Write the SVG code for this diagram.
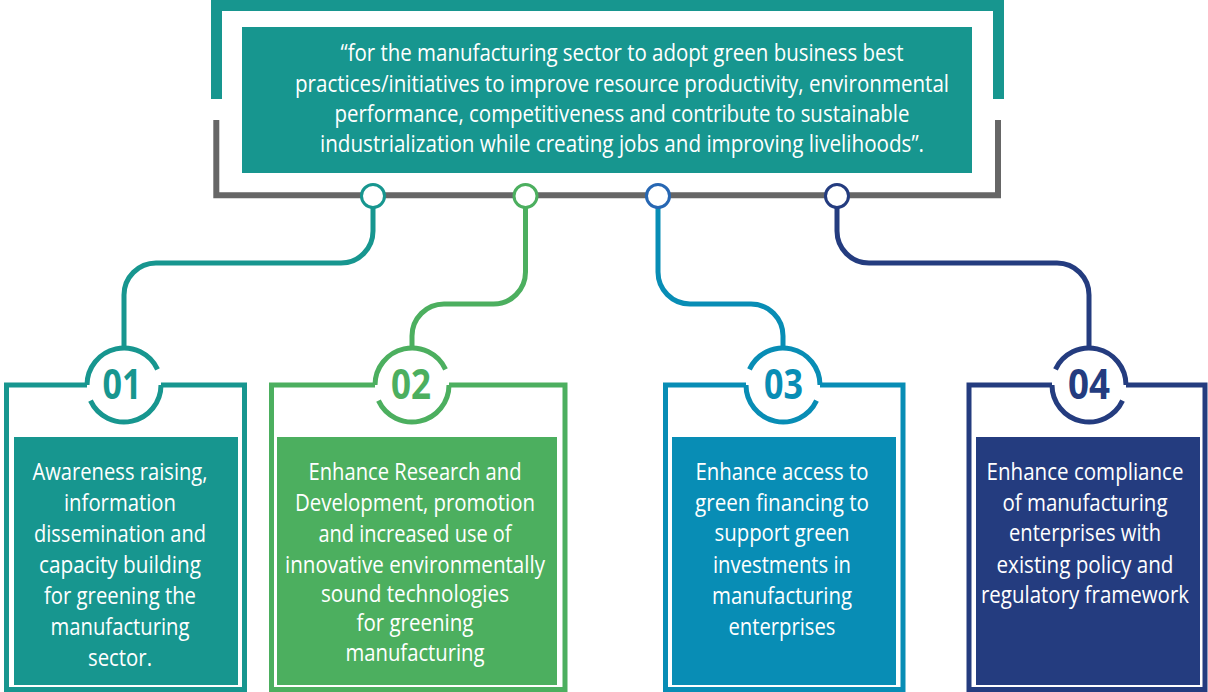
<svg xmlns="http://www.w3.org/2000/svg" width="1208" height="692" viewBox="0 0 1208 692">
  <style>
    .txt { font-family: "Open Sans", "Liberation Sans", sans-serif; font-size: 24px; fill: #ffffff; text-anchor: middle; }
    .num { font-family: "Open Sans", "Liberation Sans", sans-serif; font-size: 42px; font-weight: 700; text-anchor: middle; }
    .wire { fill: none; stroke-width: 5; }
    .ring { fill: none; stroke-width: 5; }
    .frame { fill: none; stroke-width: 5; }
    .dot { fill: #ffffff; stroke-width: 3; }
    .teal { stroke: #17968f; }
    .green { stroke: #4caf5f; }
    .blue { stroke: #088db5; }
    .navy { stroke: #243c7f; }
  </style>

  <rect width="1208" height="692" fill="#ffffff"/>

  <!-- Goal statement with its two brackets -->
  <g id="goal">
    <path d="M216.5,99 V5.5 H998.5 V99" fill="none" stroke="#17968f" stroke-width="11"/>
    <path d="M216.3,120 V195.3 H998 V120" fill="none" stroke="#666666" stroke-width="6"/>
    <rect x="242" y="27" width="730" height="146" fill="#17968f"/>
    <text class="txt" x="622" y="61" textLength="563" lengthAdjust="spacingAndGlyphs">“for the manufacturing sector to adopt green business best</text>
    <text class="txt" x="622" y="91.5" textLength="654" lengthAdjust="spacingAndGlyphs">practices/initiatives to improve resource productivity, environmental</text>
    <text class="txt" x="622" y="121.5" textLength="575" lengthAdjust="spacingAndGlyphs">performance, competitiveness and contribute to sustainable</text>
    <text class="txt" x="622" y="152" textLength="604" lengthAdjust="spacingAndGlyphs">industrialization while creating jobs and improving livelihoods”.</text>
  </g>

  <!-- Connectors from the goal bar down to each action area -->
  <g id="connectors">
    <path class="wire teal" d="M373,208 V231 A32,32 0 0 1 341,263 H156 A32,32 0 0 0 124,295 V346"/>
    <path class="wire green" d="M525.5,208 V272 A32,32 0 0 1 493.5,304 H444 A32,32 0 0 0 412,336 V346"/>
    <path class="wire blue" d="M658,208 V272 A32,32 0 0 0 690,304 H751 A32,32 0 0 1 783,336 V346"/>
    <path class="wire navy" d="M837,208 V231 A32,32 0 0 0 869,263 H1057 A32,32 0 0 1 1089,295 V346"/>
    <circle class="dot teal" cx="373" cy="196" r="11.5"/>
    <circle class="dot green" cx="525.5" cy="196" r="11.5"/>
    <circle class="dot" cx="658" cy="196" r="11.5" stroke="#2767b3"/>
    <circle class="dot navy" cx="837" cy="196" r="11.5"/>
  </g>

  <!-- 01 -->
  <g id="area-01">
    <path class="frame teal" d="M87,385 H6.5 V689.5 H244.5 V385 H161"/>
    <path class="ring teal" d="M87,385 A37,37 0 0 1 157.53,369.36 M161,385 A37,37 0 0 1 90.47,400.64"/>
    <text class="num" x="122" y="398.5" fill="#17968f" textLength="39" lengthAdjust="spacingAndGlyphs">01</text>
    <rect x="14" y="437" width="224" height="248" fill="#17968f"/>
    <text class="txt" x="120" y="480" textLength="175" lengthAdjust="spacingAndGlyphs">Awareness raising,</text>
    <text class="txt" x="120" y="511" textLength="112" lengthAdjust="spacingAndGlyphs">information</text>
    <text class="txt" x="120" y="542" textLength="172" lengthAdjust="spacingAndGlyphs">dissemination and</text>
    <text class="txt" x="120" y="573" textLength="162" lengthAdjust="spacingAndGlyphs">capacity building</text>
    <text class="txt" x="120" y="604" textLength="152" lengthAdjust="spacingAndGlyphs">for greening the</text>
    <text class="txt" x="120" y="635" textLength="139" lengthAdjust="spacingAndGlyphs">manufacturing</text>
    <text class="txt" x="120" y="666" textLength="64" lengthAdjust="spacingAndGlyphs">sector.</text>
  </g>

  <!-- 02 -->
  <g id="area-02">
    <path class="frame green" d="M375,385 H271.5 V689.5 H565 V385 H449"/>
    <path class="ring green" d="M375,385 A37,37 0 0 1 445.53,369.36 M449,385 A37,37 0 0 1 378.47,400.64"/>
    <text class="num" x="411" y="398.5" fill="#4caf5f" textLength="40" lengthAdjust="spacingAndGlyphs">02</text>
    <rect x="277" y="437" width="280" height="248" fill="#4caf5f"/>
    <text class="txt" x="415" y="480" textLength="213" lengthAdjust="spacingAndGlyphs">Enhance Research and</text>
    <text class="txt" x="415" y="511" textLength="240" lengthAdjust="spacingAndGlyphs">Development, promotion</text>
    <text class="txt" x="415" y="542" textLength="193" lengthAdjust="spacingAndGlyphs">and increased use of</text>
    <text class="txt" x="415" y="573" textLength="260" lengthAdjust="spacingAndGlyphs">innovative environmentally</text>
    <text class="txt" x="415" y="602" textLength="188" lengthAdjust="spacingAndGlyphs">sound technologies</text>
    <text class="txt" x="415" y="631" textLength="117" lengthAdjust="spacingAndGlyphs">for greening</text>
    <text class="txt" x="415" y="661" textLength="139" lengthAdjust="spacingAndGlyphs">manufacturing</text>
  </g>

  <!-- 03 -->
  <g id="area-03">
    <path class="frame blue" d="M746,385 H665.5 V689.5 H903 V385 H820"/>
    <path class="ring blue" d="M749.47,369.36 A37,37 0 0 1 820,385 M816.53,400.64 A37,37 0 0 1 746,385"/>
    <text class="num" x="783.5" y="398.5" fill="#088db5" textLength="39" lengthAdjust="spacingAndGlyphs">03</text>
    <rect x="672" y="437" width="224" height="248" fill="#088db5"/>
    <text class="txt" x="782" y="480" textLength="173" lengthAdjust="spacingAndGlyphs">Enhance access to</text>
    <text class="txt" x="782" y="511" textLength="174" lengthAdjust="spacingAndGlyphs">green financing to</text>
    <text class="txt" x="782" y="541" textLength="135" lengthAdjust="spacingAndGlyphs">support green</text>
    <text class="txt" x="782" y="573" textLength="138" lengthAdjust="spacingAndGlyphs">investments in</text>
    <text class="txt" x="782" y="604" textLength="140" lengthAdjust="spacingAndGlyphs">manufacturing</text>
    <text class="txt" x="782" y="635" textLength="107" lengthAdjust="spacingAndGlyphs">enterprises</text>
  </g>

  <!-- 04 -->
  <g id="area-04">
    <path class="frame navy" d="M1052,385 H969 V689.5 H1205 V385 H1126"/>
    <path class="ring navy" d="M1055.47,369.36 A37,37 0 0 1 1126,385 M1122.53,400.64 A37,37 0 0 1 1052,385"/>
    <text class="num" x="1089" y="398.5" fill="#243c7f" textLength="42" lengthAdjust="spacingAndGlyphs">04</text>
    <rect x="976" y="437" width="224" height="248" fill="#243c7f"/>
    <text class="txt" x="1085" y="480" textLength="197" lengthAdjust="spacingAndGlyphs">Enhance compliance</text>
    <text class="txt" x="1085" y="511" textLength="165" lengthAdjust="spacingAndGlyphs">of manufacturing</text>
    <text class="txt" x="1085" y="541" textLength="152" lengthAdjust="spacingAndGlyphs">enterprises with</text>
    <text class="txt" x="1085" y="573" textLength="177" lengthAdjust="spacingAndGlyphs">existing policy and</text>
    <text class="txt" x="1085" y="603" textLength="208" lengthAdjust="spacingAndGlyphs">regulatory framework</text>
  </g>
</svg>
